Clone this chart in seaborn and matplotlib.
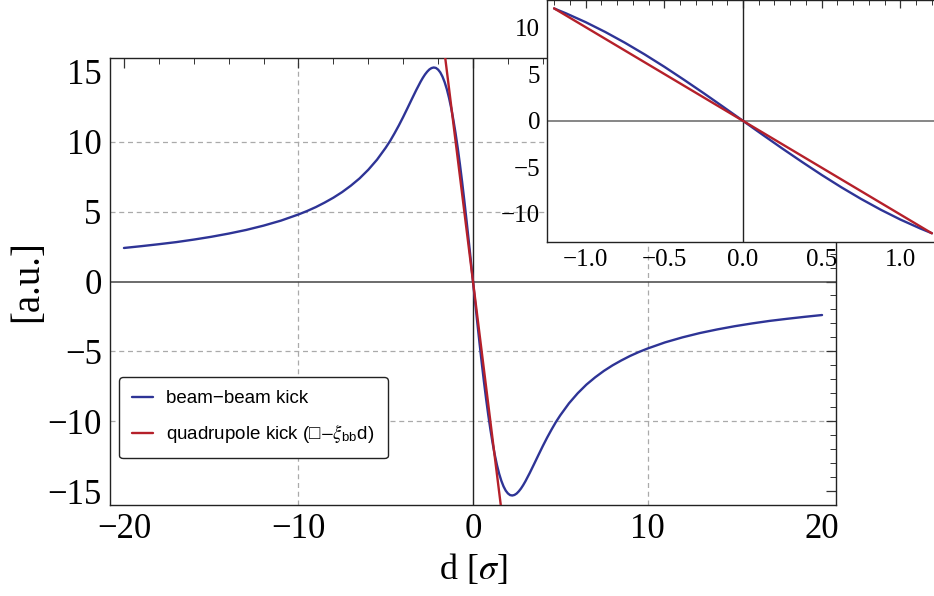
import numpy as np
import pandas as pd
import seaborn as sns
import matplotlib
matplotlib.use("Agg")
import matplotlib.pyplot as plt
from matplotlib.ticker import MultipleLocator
from matplotlib.lines import Line2D

# ---- data ----
bb_d = [-20, -19, -18, -17, -16, -15, -14, -13, -12, -11, -10, -9.5, -9, -8.5, -8, -7.5, -7,
        -6.5, -6, -5.5, -5, -4.75, -4.5, -4.25, -4, -3.75, -3.5, -3.25, -3, -2.875, -2.75,
        -2.625, -2.5, -2.375, -2.25, -2.125, -2, -1.875, -1.75, -1.625, -1.5, -1.375, -1.25,
        -1.2, -1.125, -1, -0.875, -0.75, -0.625, -0.5, -0.375, -0.25, -0.125, 0,
        0.125, 0.25, 0.375, 0.5, 0.625, 0.75, 0.875, 1, 1.125, 1.2, 1.25, 1.375, 1.5, 1.625,
        1.75, 1.875, 2, 2.125, 2.25, 2.375, 2.5, 2.625, 2.75, 2.875, 3, 3.25, 3.5, 3.75, 4,
        4.25, 4.5, 4.75, 5, 5.5, 6, 6.5, 7, 7.5, 8, 8.5, 9, 9.5, 10, 11, 12, 13, 14, 15, 16,
        17, 18, 19, 20]
bb_k = [2.40, 2.53, 2.67, 2.82, 3.00, 3.20, 3.43, 3.69, 4.00, 4.36, 4.80, 5.05, 5.33, 5.65,
        6.00, 6.40, 6.86, 7.38, 8.00, 8.72, 9.58, 10.06, 10.60, 11.17, 11.78, 12.42, 13.07,
        13.71, 14.31, 14.58, 14.82, 15.02, 15.18, 15.28, 15.32, 15.29, 15.17, 14.97, 14.67,
        14.27, 13.77, 13.15, 12.42, 12.09, 11.57, 10.62, 9.56, 8.40, 7.15, 5.82, 4.42, 2.98,
        1.50, 0.0,
        -1.50, -2.98, -4.42, -5.82, -7.15, -8.40, -9.56, -10.62, -11.57, -12.09, -12.42, -13.15,
        -13.77, -14.27, -14.67, -14.97, -15.17, -15.29, -15.32, -15.28, -15.18, -15.02, -14.82,
        -14.58, -14.31, -13.71, -13.07, -12.42, -11.78, -11.17, -10.60, -10.06, -9.58, -8.72,
        -8.00, -7.38, -6.86, -6.40, -6.00, -5.65, -5.33, -5.05, -4.80, -4.36, -4.00, -3.69,
        -3.43, -3.20, -3.00, -2.82, -2.67, -2.53, -2.40]
quad_d = [-1.75, 1.75]
quad_k = [17.6, -17.6]
inset_quad_d = [-1.2, 1.2]
inset_quad_k = [12.1, -12.1]
inset_mask_lim = 1.2

main_xticks = [-20, -10, 0, 10, 20]
main_yticks = [-15, -10, -5, 0, 5, 10, 15]
inset_xticks = [-1.0, -0.5, 0.0, 0.5, 1.0]
inset_yticks = [-10, -5, 0, 5, 10]
legend_labels = ["beam\u2212beam kick", "quadrupole kick (\u25a1$-\\xi_{\\mathregular{bb}}$d)"]

BLUE = "#2e3496"
RED = "#b5202a"

sns.set_theme(style="white")
plt.rcParams["font.family"] = ["Liberation Serif", "DejaVu Serif"]
plt.rcParams["mathtext.fontset"] = "stix"
plt.rcParams["axes.unicode_minus"] = True
plt.rcParams["text.color"] = "black"
plt.rcParams["axes.labelcolor"] = "black"
plt.rcParams["xtick.color"] = "black"
plt.rcParams["ytick.color"] = "black"

df_bb = pd.DataFrame({"d": bb_d, "k": bb_k})
df_q = pd.DataFrame({"d": quad_d, "k": quad_k})
df_bb_in = df_bb[(df_bb["d"] >= -inset_mask_lim) & (df_bb["d"] <= inset_mask_lim)]
df_q_in = pd.DataFrame({"d": inset_quad_d, "k": inset_quad_k})

fig = plt.figure(figsize=(9.34, 5.96), dpi=100)
ax = fig.add_axes([110 / 934, 1 - 505 / 596, 726 / 934, 447 / 596])

# grid
for gx in [-10, 10]:
    ax.axvline(gx, color="#aaaaaa", lw=0.9, ls=(0, (4, 3)), zorder=0)
for gy in [-10, -5, 5, 10]:
    ax.axhline(gy, color="#aaaaaa", lw=0.9, ls=(0, (4, 3)), zorder=0)
ax.axhline(0, color="#444444", lw=1.1, zorder=1)
ax.axvline(0, color="#222222", lw=1.0, zorder=1)

sns.lineplot(data=df_bb, x="d", y="k", ax=ax, color=BLUE, lw=1.7, sort=False,
             estimator=None, zorder=3)
sns.lineplot(data=df_q, x="d", y="k", ax=ax, color=RED, lw=1.7, sort=False,
             estimator=None, zorder=4)

ax.set_xlim(-20.8, 20.8)
ax.set_ylim(-16, 16)
ax.set_xticks(main_xticks)
ax.set_yticks(main_yticks)
ax.xaxis.set_minor_locator(MultipleLocator(2))
ax.yaxis.set_minor_locator(MultipleLocator(1))
ax.tick_params(which="both", direction="in", top=True, right=True, color="#333333",
               labelsize=25, pad=6)
ax.tick_params(which="major", length=7, width=0.9)
ax.tick_params(which="minor", length=4, width=0.7)
for s in ax.spines.values():
    s.set_color("#222222")
    s.set_linewidth(1.0)
ax.set_xlabel("d [$\\sigma$]", fontsize=26, labelpad=4)
ax.set_ylabel("[a.u.]", fontsize=28, labelpad=1)

handles = [Line2D([0], [0], color=BLUE, lw=1.7), Line2D([0], [0], color=RED, lw=1.7)]
leg = ax.legend(handles, legend_labels, loc="upper left", bbox_to_anchor=(0.0124, 0.2864),
                prop={"family": ["Liberation Sans", "DejaVu Sans"], "size": 13.5},
                frameon=True, fancybox=True, edgecolor="#222222", framealpha=1,
                handlelength=1.1, handletextpad=0.7, labelspacing=0.8, borderpad=0.7,
                borderaxespad=0)
leg.get_frame().set_linewidth(1.0)

# inset
axi = fig.add_axes([547 / 934, 1 - 241.7 / 596, 392 / 934, 241.7 / 596])
axi.set_facecolor("white")
axi.axhline(0, color="#666666", lw=1.1, zorder=1)
axi.axvline(0, color="#222222", lw=1.0, zorder=1)
sns.lineplot(data=df_bb_in, x="d", y="k", ax=axi, color=BLUE, lw=1.7, sort=False,
             estimator=None, zorder=3)
sns.lineplot(data=df_q_in, x="d", y="k", ax=axi, color=RED, lw=1.7, sort=False,
             estimator=None, zorder=4)
axi.set_xlim(-1.245, 1.245)
axi.set_ylim(-13, 13)
axi.set_xticks(inset_xticks)
axi.set_yticks(inset_yticks)
axi.set_xticklabels([f"{v:.1f}".replace("-", "\u2212") for v in inset_xticks])
axi.xaxis.set_minor_locator(MultipleLocator(0.1))
axi.yaxis.set_minor_locator(MultipleLocator(1))
axi.tick_params(which="both", direction="in", top=True, right=False, color="#333333",
                labelsize=18, pad=5)
axi.tick_params(which="major", length=6, width=0.9)
axi.tick_params(which="minor", length=3.5, width=0.7)
for s in axi.spines.values():
    s.set_color("#222222")
    s.set_linewidth(1.0)
axi.set_xlabel("")
axi.set_ylabel("")

fig.savefig("out.png", dpi=100)
